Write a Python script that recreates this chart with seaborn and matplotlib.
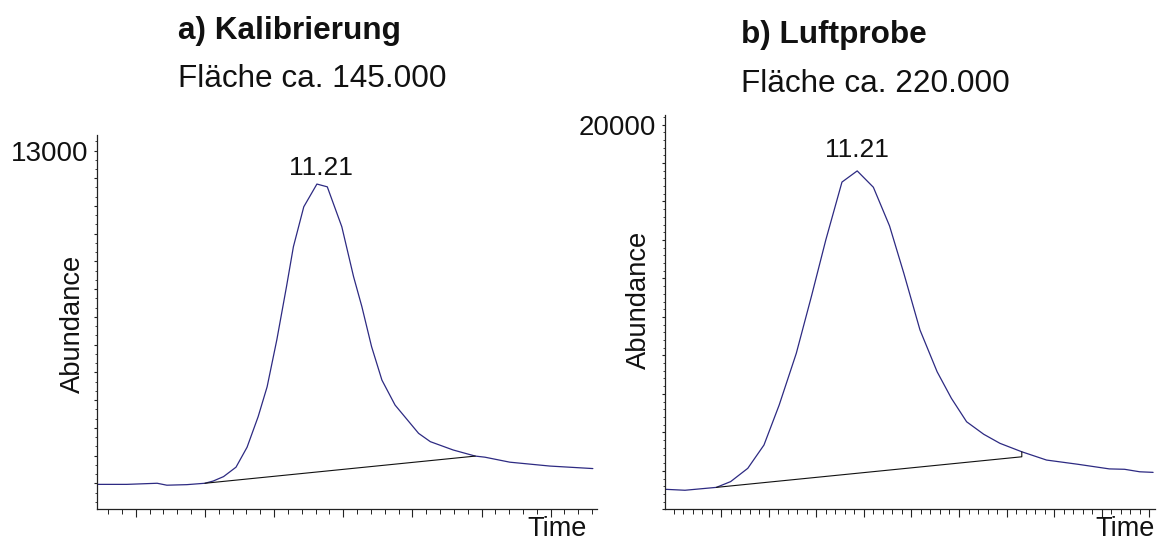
import numpy as np
import pandas as pd
import seaborn as sns
import matplotlib.pyplot as plt
from matplotlib.ticker import FixedLocator, NullFormatter, FixedFormatter

sns.set_theme(style="white")
plt.rcParams['font.family'] = ['Liberation Sans', 'DejaVu Sans']

# Chromatogram a) calibration standard: retention time (min) and abundance
cal_time = [10.887, 10.929, 10.973, 10.987, 11.016, 11.042, 11.054, 11.069,
            11.087, 11.103, 11.119, 11.132, 11.146, 11.160, 11.170, 11.185,
            11.204, 11.219, 11.240, 11.257, 11.269, 11.283, 11.298, 11.317,
            11.351, 11.368, 11.401, 11.433, 11.447, 11.483, 11.541, 11.603]
cal_abund = [960, 960, 1000, 930, 950, 1000, 1080, 1240,
             1580, 2300, 3400, 4480, 6170, 8090, 9530, 10970,
             11790, 11690, 10250, 8450, 7370, 5930, 4720, 3820,
             2800, 2500, 2200, 1980, 1940, 1760, 1620, 1530]
# integration baseline (start / end of peak)
cal_base_time = [11.042, 11.433]
cal_base_abund = [1000, 1980]

# Chromatogram b) air sample
air_time = [11.008, 11.029, 11.062, 11.077, 11.095, 11.112, 11.128, 11.146,
            11.162, 11.177, 11.194, 11.210, 11.227, 11.244, 11.259, 11.276,
            11.294, 11.309, 11.325, 11.343, 11.360, 11.383, 11.409, 11.442,
            11.475, 11.491, 11.507, 11.521]
air_abund = [1040, 990, 1140, 1440, 2130, 3340, 5420, 8110,
             11090, 14000, 17010, 17590, 16740, 14730, 12270, 9320,
             7150, 5770, 4550, 3900, 3430, 2990, 2560, 2340,
             2100, 2080, 1950, 1920]
air_base_time = [11.062, 11.383, 11.383]
air_base_abund = [1140, 2730, 2990]

peak_rt = 11.21
titles = ["a) Kalibrierung", "b) Luftprobe"]
areas = ["Fläche ca. 145.000", "Fläche ca. 220.000"]
top_labels = ["13000", "20000"]

trace_color = "#2d2a82"
axis_color = "#222222"
text_color = "#111111"

W, H = 1157, 543
fig = plt.figure(figsize=(W / 100, H / 100), dpi=100)


def px_axes(left, top, right, bottom):
    return fig.add_axes([left / W, 1 - bottom / H, (right - left) / W, (bottom - top) / H])


panels = [
    dict(ax=px_axes(97, 135, 597, 509.3), t=cal_time, a=cal_abund,
         bt=cal_base_time, ba=cal_base_abund, xlim=(10.886, 11.609),
         ylim=(61, 13559), xmaj=(10.942, 0.1), xmin=(10.902, 0.02),
         ymaj=1000, ymin=1000 / 3, ytop=13000, label_off=6.5,
         ylab=(-0.048, 0.495), tlab=(0.98, -0.071)),
    dict(ax=px_axes(665, 115, 1155, 509.3), t=air_time, a=air_abund,
         bt=air_base_time, ba=air_base_abund, xlim=(11.008, 11.523),
         ylim=(0, 20496), xmaj=(11.067, 0.05), xmin=(11.017, 0.01),
         ymaj=2000, ymin=400, ytop=20000, label_off=10,
         ylab=(-0.053, 0.531), tlab=(1.0, -0.068)),
]

for i, p in enumerate(panels):
    ax = p["ax"]
    df = pd.DataFrame({"Time": p["t"], "Abundance": p["a"]})
    sns.lineplot(data=df, x="Time", y="Abundance", ax=ax, color=trace_color,
                 linewidth=0.9, estimator=None, sort=False)
    ax.plot(p["bt"], p["ba"], color="#111111", linewidth=0.8)

    ax.set_xlim(*p["xlim"])
    ax.set_ylim(*p["ylim"])

    # x ticks: unlabeled major/minor marks
    x0, dx = p["xmaj"]
    ax.xaxis.set_major_locator(FixedLocator(np.arange(x0, p["xlim"][1], dx)))
    m0, dm = p["xmin"]
    ax.xaxis.set_minor_locator(FixedLocator(np.arange(m0, p["xlim"][1], dm)))
    ax.xaxis.set_major_formatter(NullFormatter())

    # y ticks: only the top value is labelled
    ymaj = np.arange(0, p["ytop"] + 1, p["ymaj"])
    ax.yaxis.set_major_locator(FixedLocator(ymaj))
    ax.yaxis.set_major_formatter(FixedFormatter(
        [top_labels[i] if v == p["ytop"] else "" for v in ymaj]))
    ax.yaxis.set_minor_locator(FixedLocator(np.arange(p["ymin"], p["ylim"][1], p["ymin"])))

    ax.tick_params(axis="x", which="major", direction="out", length=6, width=0.8,
                   color=axis_color, bottom=True)
    ax.tick_params(axis="x", which="minor", direction="out", length=3.5, width=0.7,
                   color=axis_color, bottom=True)
    ax.tick_params(axis="y", which="major", direction="out", length=2.5, width=0.8,
                   color=axis_color, left=True, labelsize=20, pad=4,
                   labelcolor=text_color)
    ax.tick_params(axis="y", which="minor", direction="out", length=1.5, width=0.6,
                   color=axis_color, left=True)

    for side in ("top", "right"):
        ax.spines[side].set_visible(False)
    for side in ("left", "bottom"):
        ax.spines[side].set_color(axis_color)
        ax.spines[side].set_linewidth(0.9)

    ax.set_ylabel("Abundance", fontsize=19.7, color=text_color)
    ax.yaxis.label.set_va("center")
    ax.yaxis.set_label_coords(*p["ylab"])
    ax.set_xlabel("Time", fontsize=19.5, color=text_color, ha="right")
    ax.xaxis.label.set_va("baseline")
    ax.xaxis.set_label_coords(*p["tlab"])

    peak_val = max(p["a"])
    ax.annotate(f"{peak_rt:.2f}", xy=(peak_rt, peak_val), xytext=(0, p["label_off"]),
                textcoords="offset points", ha="center", va="baseline",
                fontsize=19, color=text_color)

# panel headings
fig.text(178 / W, 1 - 39.3 / H, titles[0], fontsize=22.7, fontweight="bold",
         ha="left", va="baseline", color=text_color)
fig.text(178 / W, 1 - 87.3 / H, areas[0], fontsize=22.7,
         ha="left", va="baseline", color=text_color)
fig.text(741 / W, 1 - 43.3 / H, titles[1], fontsize=22.7, fontweight="bold",
         ha="left", va="baseline", color=text_color)
fig.text(741 / W, 1 - 91.7 / H, areas[1], fontsize=22.7,
         ha="left", va="baseline", color=text_color)

fig.savefig("out.png", dpi=100, facecolor="white")
